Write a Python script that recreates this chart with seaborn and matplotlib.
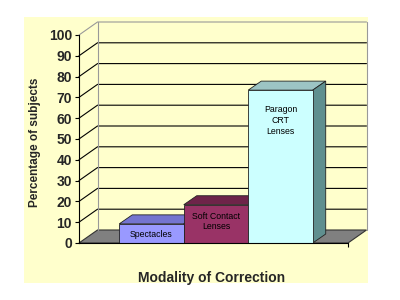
import matplotlib
matplotlib.use("Agg")
import matplotlib.pyplot as plt
import seaborn as sns
import pandas as pd
from matplotlib.patches import Polygon, Rectangle
from matplotlib.lines import Line2D

# ---- data ----
categories = ["Spectacles", "Soft Contact\nLenses", "Paragon\nCRT\nLenses"]
values = [9.2, 18.4, 73.5]
yticks = [0, 10, 20, 30, 40, 50, 60, 70, 80, 90, 100]
ylabel = "Percentage of subjects"
xlabel = "Modality of Correction"

# ---- style ----
front_colors = ["#9999FF", "#993366", "#CCFFFF"]
top_colors = ["#7474D0", "#6E2449", "#9CC4C4"]
side_colors = ["#5C5CA8", "#5A1C3A", "#5F8F8F"]
label_drop_px = [6, 7, 15]
bg = "#FFFFCC"

sns.set_style("white")
plt.rcParams["font.family"] = ["Liberation Sans", "DejaVu Sans"]

fig = plt.figure(figsize=(4, 3), dpi=100)
fig.patch.set_facecolor("white")
fig.patches.append(Rectangle((24 / 400, 17 / 300), (368 - 24) / 400, (283 - 17) / 300,
                             transform=fig.transFigure, facecolor=bg, edgecolor="none", zorder=-5))

ax = fig.add_axes([79 / 400, 57 / 300, 269 / 400, 208 / 300])
ax.set_zorder(2)
ax.set_facecolor("none")
ax.patch.set_visible(False)

df = pd.DataFrame({"cat": categories, "val": values})
sns.barplot(data=df, x="cat", y="val", hue="cat", palette=front_colors, width=1.0,
            edgecolor="#222222", linewidth=0.6, legend=False, ax=ax, saturation=1)

xmin, xmax = -1.124, 3.047
ax.set_xlim(xmin, xmax)
ax.set_ylim(0, 100)

ppx = 269 / (xmax - xmin)
ppy = 208 / 100.0
DX, DY = 18.5 / ppx, 13 / ppy
bdx, bdy = 13 / ppx, 9 / ppy

bars = [q for q in ax.patches if isinstance(q, Rectangle)]

# floor
ax.add_patch(Polygon([(xmin, 0), (xmax, 0), (xmax + DX, DY), (xmin + DX, DY)], closed=True,
                     facecolor="#808080", edgecolor="#333333", linewidth=0.8,
                     clip_on=False, zorder=1))

# gridlines / walls
for v in yticks[1:]:
    col = "#999999" if v == yticks[-1] else "black"
    ax.add_line(Line2D([xmin, xmin + DX, xmax + DX], [v, v + DY, v + DY], color=col,
                       linewidth=0.8, clip_on=False, zorder=1.5))
ax.add_line(Line2D([xmin + DX, xmin + DX], [DY, yticks[-1] + DY], color="#999999",
                   linewidth=0.8, clip_on=False, zorder=1.5))
ax.add_line(Line2D([xmax + DX, xmax + DX], [DY, yticks[-1] + DY], color="#999999",
                   linewidth=0.8, clip_on=False, zorder=1.5))

# 3D faces
for i, p in enumerate(bars):
    x0 = p.get_x()
    w = p.get_width()
    h = p.get_height()
    p.set_zorder(3 + i * 0.1 + 0.05)
    ax.add_patch(Polygon([(x0, h), (x0 + w, h), (x0 + w + bdx, h + bdy), (x0 + bdx, h + bdy)],
                         closed=True, facecolor=top_colors[i], edgecolor="#222222",
                         linewidth=0.6, zorder=3 + i * 0.1, clip_on=False))
    ax.add_patch(Polygon([(x0 + w, 0), (x0 + w + bdx, bdy), (x0 + w + bdx, h + bdy), (x0 + w, h)],
                         closed=True, facecolor=side_colors[i], edgecolor="#222222",
                         linewidth=0.6, zorder=3 + i * 0.1, clip_on=False))
    ax.annotate(categories[i], xy=(x0 + w / 2, h), xytext=(0, -label_drop_px[i] * 0.72),
                textcoords="offset points", ha="center", va="top", fontsize=6.3,
                color="black", linespacing=1.25, zorder=6)

ax.set_yticks(yticks)
ax.set_yticklabels([str(t) for t in yticks], fontsize=10, fontweight="bold")
ax.set_xticks([xmax])
ax.set_xticklabels([""])
ax.tick_params(axis="y", direction="out", length=3, width=0.8, color="black", pad=2, left=True)
ax.tick_params(axis="x", direction="out", length=3, width=0.8, color="black", bottom=True)

for s in ["top", "right"]:
    ax.spines[s].set_visible(False)
ax.spines["left"].set_color("black")
ax.spines["left"].set_linewidth(0.8)
ax.spines["bottom"].set_color("black")
ax.spines["bottom"].set_linewidth(0.8)
ax.spines["left"].set_zorder(4)
ax.spines["bottom"].set_zorder(4)

ax.set_ylabel(ylabel, fontsize=8.5, fontweight="bold")
ax.set_xlabel(xlabel, fontsize=10, fontweight="bold")
ax.yaxis.set_label_coords(-0.164, 0.486)
ax.xaxis.set_label_coords(0.494, -0.168)
ax.yaxis.label.set_va("center")
ax.xaxis.label.set_va("center")

fig.savefig("out.png", dpi=100)
